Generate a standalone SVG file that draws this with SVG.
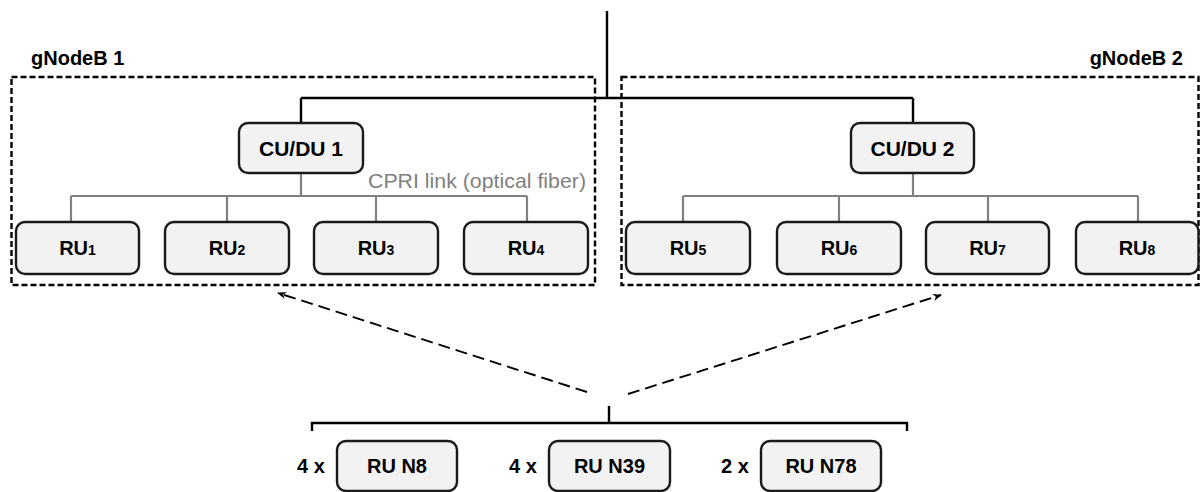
<svg xmlns="http://www.w3.org/2000/svg" width="1200" height="492" viewBox="0 0 1200 492">
<defs>
<style>
.box{fill:#f2f2f2;stroke:#1a1a1a;stroke-width:2.4}
.grp{fill:none;stroke:#000;stroke-width:2.4;stroke-dasharray:6 3}
.lbl{font-family:"Liberation Sans",Arial,sans-serif;font-weight:bold;fill:#000;text-anchor:middle}
.blk{fill:none;stroke:#000;stroke-width:2.4}
.gry{fill:none;stroke:#808080;stroke-width:2.2}
.arr{fill:none;stroke:#000;stroke-width:1.9;stroke-dasharray:12 6;marker-end:url(#ah)}
.sub{font-size:14px}
</style>
<marker id="ah" viewBox="0 0 10 10" refX="9" refY="5" markerWidth="9" markerHeight="9" markerUnits="userSpaceOnUse" orient="auto">
<path d="M0,1 L10,5 L0,9 L3,5 z" fill="#000"/>
</marker>
</defs>
<rect width="1200" height="492" fill="#fff"/>

<g id="gNodeB1">
<rect class="grp" x="11.5" y="77" width="583.5" height="208"/>
<text class="lbl" x="31" y="65" font-size="20" style="text-anchor:start">gNodeB 1</text>
</g>
<g id="gNodeB2">
<rect class="grp" x="621.5" y="77" width="577" height="208"/>
<text class="lbl" x="1183" y="65" font-size="20" style="text-anchor:end">gNodeB 2</text>
</g>

<g id="connectors">
<path class="blk" d="M607 11 V98 M301 98 H913 M301 98 V123 M913 98 V123"/>
<path class="gry" d="M301 173 V196 M71 196 H527 M71 196 V222 M227 196 V222 M376 196 V222 M527 196 V222"/>
<path class="gry" d="M913 173 V196 M683 196 H1138 M683 196 V222 M839 196 V222 M988 196 V222 M1138 196 V222"/>
<path class="arr" d="M587 392 L278 293"/>
<path class="arr" d="M628 394 L941 295"/>
<path class="blk" d="M609 406 V423 M312 431 V423 H907 V431"/>
</g>
<text x="368" y="188" font-family="'Liberation Sans',Arial,sans-serif" font-size="21" fill="#7f7f7f" textLength="218" lengthAdjust="spacingAndGlyphs">CPRI link (optical fiber)</text>

<g id="cudu1"><rect class="box" x="239" y="123" width="124" height="50" rx="9"/><text class="lbl" x="301" y="156" font-size="21">CU/DU 1</text></g>
<g id="cudu2"><rect class="box" x="851" y="123" width="123" height="50" rx="9"/><text class="lbl" x="912.5" y="156" font-size="21">CU/DU 2</text></g>

<g id="ru1"><rect class="box" x="16" y="222" width="123" height="52" rx="9"/><text class="lbl" x="77.5" y="255" font-size="20">RU<tspan class="sub">1</tspan></text></g>
<g id="ru2"><rect class="box" x="165" y="222" width="124" height="52" rx="9"/><text class="lbl" x="227" y="255" font-size="20">RU<tspan class="sub">2</tspan></text></g>
<g id="ru3"><rect class="box" x="314" y="222" width="124" height="52" rx="9"/><text class="lbl" x="376" y="255" font-size="20">RU<tspan class="sub">3</tspan></text></g>
<g id="ru4"><rect class="box" x="464" y="222" width="124" height="52" rx="9"/><text class="lbl" x="526" y="255" font-size="20">RU<tspan class="sub">4</tspan></text></g>
<g id="ru5"><rect class="box" x="626" y="222" width="124" height="52" rx="9"/><text class="lbl" x="688" y="255" font-size="20">RU<tspan class="sub">5</tspan></text></g>
<g id="ru6"><rect class="box" x="777" y="222" width="124" height="52" rx="9"/><text class="lbl" x="839" y="255" font-size="20">RU<tspan class="sub">6</tspan></text></g>
<g id="ru7"><rect class="box" x="926" y="222" width="123" height="52" rx="9"/><text class="lbl" x="987.5" y="255" font-size="20">RU<tspan class="sub">7</tspan></text></g>
<g id="ru8"><rect class="box" x="1076" y="222" width="122.5" height="52" rx="9"/><text class="lbl" x="1137" y="255" font-size="20">RU<tspan class="sub">8</tspan></text></g>

<g id="ruN8"><text class="lbl" x="311" y="473" font-size="20">4 x</text><rect class="box" x="337" y="441" width="120" height="50" rx="9"/><text class="lbl" x="397" y="473" font-size="20">RU N8</text></g>
<g id="ruN39"><text class="lbl" x="523" y="473" font-size="20">4 x</text><rect class="box" x="549" y="441" width="121" height="50" rx="9"/><text class="lbl" x="609.5" y="473" font-size="20">RU N39</text></g>
<g id="ruN78"><text class="lbl" x="735" y="473" font-size="20">2 x</text><rect class="box" x="761" y="441" width="120" height="50" rx="9"/><text class="lbl" x="821" y="473" font-size="20">RU N78</text></g>
</svg>
